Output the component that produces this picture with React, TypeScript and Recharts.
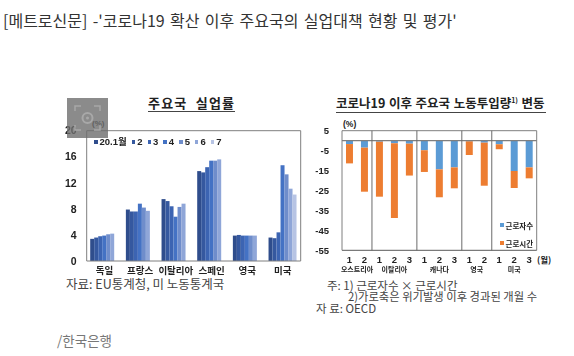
import React from "react";
import { BarChart, Bar, XAxis, YAxis, Legend, ReferenceLine } from "recharts";

const FONT = "'Noto Sans CJK KR', sans-serif";
const LATIN = "'Liberation Sans', 'Noto Sans CJK KR', sans-serif";

// Left chart
const countries = ["독일", "프랑스", "이탈리아", "스페인", "영국", "미국"];
const m1 = [3.4, 7.9, 9.5, 13.8, 3.9, 3.6];
const m2 = [3.6, 7.6, 9.2, 13.6, 4.0, 3.5];
const m3 = [3.8, 7.6, 8.4, 14.4, 3.9, 4.4];
const m4 = [3.9, 8.8, 6.8, 15.4, 3.9, 14.7];
const m5 = [4.1, 8.2, 8.3, 15.4, 3.9, 13.3];
const m6 = [4.2, 7.7, 8.8, 15.6, 3.9, 11.1];
const m7 = [null, null, null, null, null, 10.2];
const monthNames = ["20.1월", "2", "3", "4", "5", "6", "7"];
const monthColors = ["#2f4d8c", "#35589f", "#3c64b2", "#4472c4", "#6f8dcb", "#8fa6d8", "#b7c4e4"];
const monthValues = [m1, m2, m3, m4, m5, m6, m7];
const leftTicks = [0, 4, 8, 12, 16, 20];
const leftData = countries.map((c, i) => {
  const row: any = { c };
  monthValues.forEach((v, k) => (row[monthNames[k]] = v[i]));
  return row;
});

// Right chart
const groups = ["오스트리아", "이탈리아", "캐나다", "영국", "미국"];
const groupMonths = [2, 3, 3, 2, 3];
const workers = [-1.7, -3.5, -0.5, -1.3, -1.5, -4.8, -14.4, -13.4, -0.3, -1.0, -1.8, -15.2, -13.4];
const hours = [-9.7, -22.1, -27.6, -37.5, -16.0, -10.9, -14.0, -10.5, -6.9, -21.6, -2.5, -8.5, -5.5];
const rightTicks = [5, -5, -15, -25, -35, -45, -55];
const rightKeys = groups.flatMap((g, gi) =>
  Array.from({ length: groupMonths[gi] }, (_, m) => `${gi}-${m + 1}`)
);
const rightData = rightKeys.map((k, i) => ({ k, 근로자수: workers[i], 근로시간: hours[i] }));
const separators = rightKeys.filter((k, i) => i > 0 && k.endsWith("-1"));

const txt = (x: number, y: number, s: React.CSSProperties = {}): React.CSSProperties => ({
  position: "absolute",
  left: x,
  top: y,
  whiteSpace: "pre",
  lineHeight: 1,
  fontFamily: FONT,
  color: "#333",
  ...s,
});

const RightTick = (p: any) => {
  const [gi, m] = String(p.payload.value).split("-").map(Number);
  const n = groupMonths[gi];
  const showGroup = m === 1;
  const band = 15;
  return (
    <g>
      <text x={p.x} y={p.y + 4.5} textAnchor="middle" fontSize={9.5} fontWeight={700} fontFamily={LATIN} fill="#222">
        {m}
      </text>
      {showGroup && (
        <text x={p.x + ((n - 1) / 2) * band} y={p.y + 13.5} textAnchor="middle" fontSize={7} fontWeight={700} fontFamily={FONT} fill="#222">
          {groups[gi]}
        </text>
      )}
    </g>
  );
};

const LeftLegend = (p: any) => (
  <div style={{ display: "flex", gap: 5, fontFamily: LATIN, fontSize: 9.5, fontWeight: 700, color: "#222", lineHeight: "12px", whiteSpace: "nowrap" }}>
    {(p.payload || []).map((e: any) => (
      <span key={e.value} style={{ display: "flex", alignItems: "center", gap: 2 }}>
        <span style={{ width: 3.5, height: 3.5, background: e.color, display: "inline-block" }} />
        <span style={{ fontFamily: LATIN }}>{e.value}</span>
      </span>
    ))}
  </div>
);

const RightLegend = (p: any) => (
  <div style={{ fontFamily: FONT, fontSize: 7.5, fontWeight: 700, color: "#222", whiteSpace: "nowrap" }}>
    {(p.payload || []).map((e: any) => (
      <div key={e.value} style={{ display: "flex", alignItems: "center", gap: 2, height: 18 }}>
        <span style={{ width: 3.5, height: 3.5, background: e.color, display: "inline-block" }} />
        <span>{e.value}</span>
      </div>
    ))}
  </div>
);

export default function App() {
  const soft: React.CSSProperties = { position: "absolute", left: 0, top: 0, filter: "blur(0.3px)" };
  const lastCountry = countries[countries.length - 1];
  const lastKey = rightKeys[rightKeys.length - 1];
  return (
    <div style={{ position: "absolute", left: 0, top: 0, width: 574, height: 356, background: "#fff", overflow: "hidden" }}>
      <div style={txt(3, 12, { fontSize: 16, color: "#333", wordSpacing: 1.75 })}>[메트로신문] -'코로나19 확산 이후 주요국의 실업대책 현황 및 평가'</div>

      <div style={soft}>
        <BarChart
          width={574}
          height={356}
          data={leftData}
          margin={{ left: 56.7, right: 273.3, top: 130.7, bottom: 75 }}
          barCategoryGap={3.5}
          barGap={0}
        >
          <XAxis
            dataKey="c"
            height={20}
            interval={0}
            stroke="#7f7f7f"
            tickLine={false}
            tick={{ fontSize: 9.5, fontWeight: 700, fill: "#222", fontFamily: FONT, dy: -2 }}
          />
          <YAxis
            width={30}
            domain={[0, 20]}
            ticks={leftTicks}
            interval={0}
            stroke="#7f7f7f"
            tickLine={false}
            tickMargin={4}
            tick={{ fontSize: 10.5, fontWeight: 700, fill: "#222", fontFamily: LATIN }}
          />
          <ReferenceLine y={20} stroke="#7f7f7f" />
          <ReferenceLine x={lastCountry} position="end" stroke="#7f7f7f" />
          <Legend itemSorter={null} content={LeftLegend} wrapperStyle={{ position: "absolute", left: 94, top: 136, width: 180, height: 0 }} />
          {monthNames.map((n, i) => (
            <Bar key={n} dataKey={n} fill={monthColors[i]} isAnimationActive={false} />
          ))}
        </BarChart>
      </div>

      <div style={soft}>
        <BarChart
          width={574}
          height={356}
          data={rightData}
          margin={{ left: 312, right: 37.3, top: 130.7, bottom: 75.7 }}
          barCategoryGap="26.5%"
        >
          <XAxis dataKey="k" height={30} interval={0} stroke="#595959" tickLine={false} tick={RightTick} />
          <YAxis
            width={30}
            domain={[-55, 5]}
            ticks={rightTicks}
            interval={0}
            stroke="#7f7f7f"
            tickLine={false}
            tickMargin={7}
            tick={{ fontSize: 9.5, fontWeight: 700, fill: "#222", fontFamily: LATIN }}
          />
          <ReferenceLine y={5} stroke="#7f7f7f" />
          <ReferenceLine x={lastKey} position="end" stroke="#7f7f7f" />
          <Legend itemSorter={null} content={RightLegend} wrapperStyle={{ position: "absolute", left: 500, top: 216, width: 50, height: 0 }} />
          <Bar dataKey="근로자수" stackId="a" fill="#5b9bd5" isAnimationActive={false} />
          <Bar dataKey="근로시간" stackId="a" fill="#ed7d31" isAnimationActive={false} />
          <ReferenceLine y={0} stroke="#7f7f7f" strokeWidth={1.2} />
          {separators.map((k) => (
            <ReferenceLine key={k} x={k} position="start" stroke="#6b6b6b" strokeWidth={1} />
          ))}
        </BarChart>
      </div>

      {/* left texts */}
      <div style={txt(148, 96, { fontSize: 13, fontWeight: 700, color: "#222", letterSpacing: 1.2, borderBottom: "1px solid #444", paddingBottom: 2, width: 87, textAlign: "center" })}>주요국  실업률</div>
      <div style={txt(92, 120, { fontSize: 8, fontWeight: 700, color: "#222", fontFamily: LATIN })}>(%)</div>
      <div style={txt(66, 278, { fontSize: 12.5, color: "#444" })}>자료: EU통계청, 미 노동통계국</div>

      {/* right texts */}
      <div style={txt(336, 97, { fontSize: 12.5, fontWeight: 700, color: "#222", borderBottom: "1px solid #444", paddingBottom: 2, width: 210, wordSpacing: 0.8 })}>
        코로나19 이후 주요국 노동투입량<sup style={{ fontSize: 7, lineHeight: 0 }}>1)</sup> 변동
      </div>
      <div style={txt(343, 120, { fontSize: 8.5, fontWeight: 700, color: "#222", fontFamily: LATIN })}>(%)</div>
      <div style={txt(537, 255, { fontSize: 8.5, fontWeight: 700, color: "#222" })}>(월)</div>
      <div style={txt(327, 280, { fontSize: 11.5, color: "#444" })}>주: 1) 근로자수 × 근로시간</div>
      <div style={txt(348, 291, { fontSize: 11.3, color: "#444" })}>2)가로축은 위기발생 이후 경과된 개월 수</div>
      <div style={txt(316, 303, { fontSize: 11.5, color: "#444" })}>자 료: OECD</div>

      <div style={txt(57, 334, { fontSize: 13.5, color: "#777" })}>/한국은행</div>

      {/* image overlay */}
      <svg width={41} height={40} style={{ position: "absolute", left: 67, top: 98 }}>
        <rect width={41} height={40} fill="#6e6e6e" fillOpacity={0.8} />
        <g fill="none" stroke="#a8a8a8" strokeWidth={1.5}>
          <path d="M8 13V8H14M27 8H33V13M8 27V32H14M33 27V32H27" />
          <circle cx={20.5} cy={20} r={5} strokeWidth={2} />
          <circle cx={20.5} cy={20} r={1.5} fill="#a8a8a8" stroke="none" />
        </g>
      </svg>
    </div>
  );
}
